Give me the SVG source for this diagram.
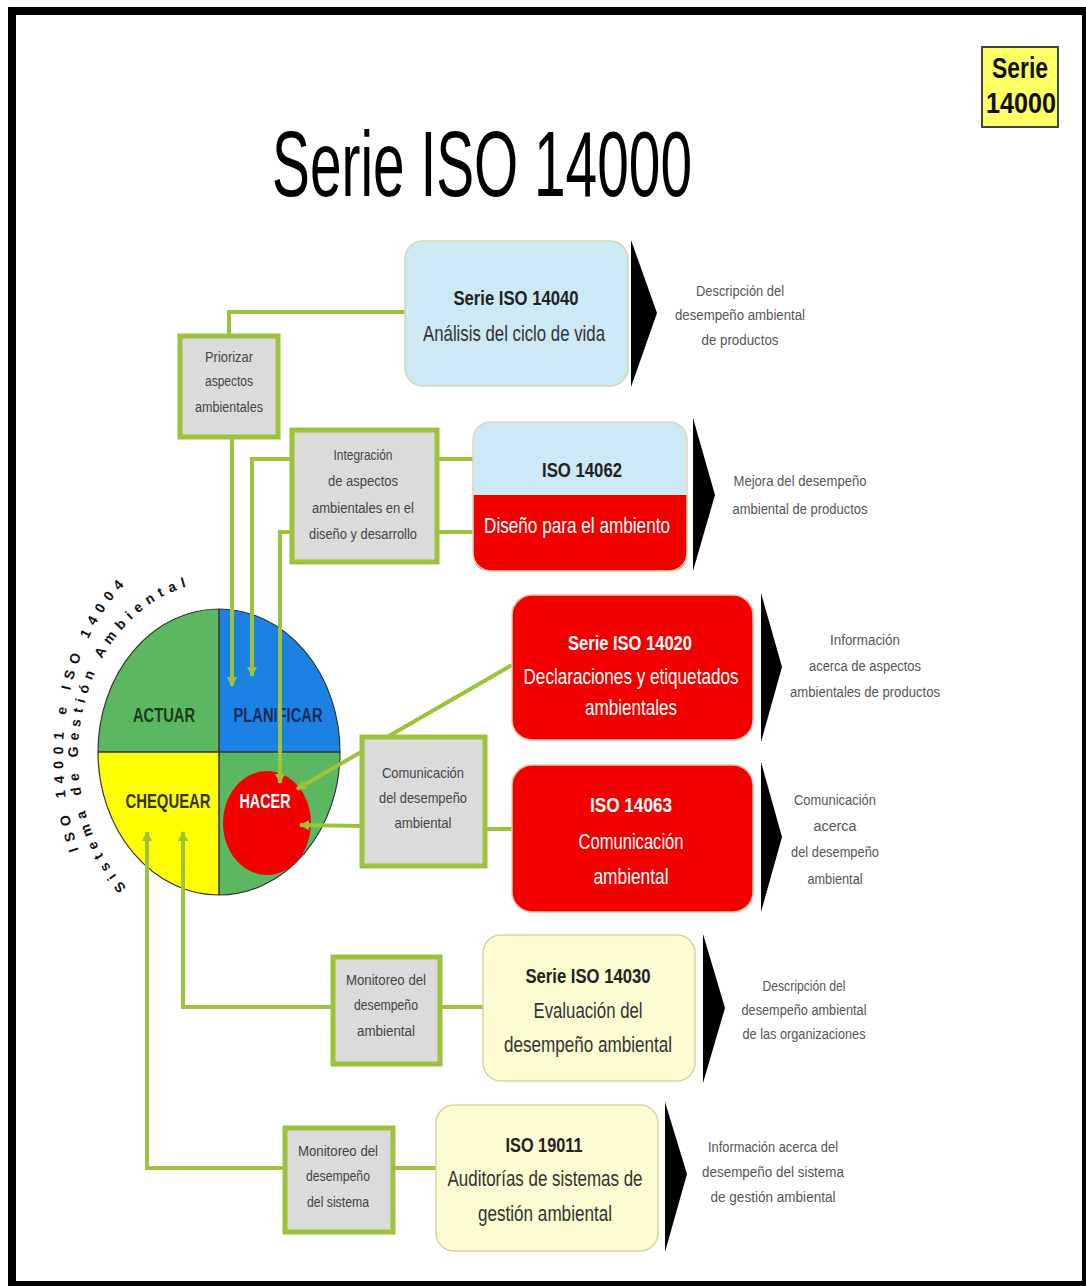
<svg xmlns="http://www.w3.org/2000/svg" width="1086" height="1286" viewBox="0 0 1086 1286">
<style>
text{font-family:"Liberation Sans",Arial,Helvetica,sans-serif;text-anchor:middle}
.gb{fill:#dbdbdb;stroke:#9cc33b;stroke-width:5}
.ln{fill:none;stroke:#9cc33b;stroke-width:4}
.gt{font-size:14px;fill:#444}
.ct{font-size:15px;fill:#444}
.dt{font-size:14px;fill:#555}
.bt{font-size:20px;font-weight:bold;fill:#222}
.bx{font-size:22px;fill:#333}
.wb{font-size:20px;font-weight:bold;fill:#fff}
.wx{font-size:22px;fill:#fff}
.blue{fill:#cde9f6;stroke:#cfd9b5;stroke-width:1.5}
.red{fill:#f20000;stroke:#f4c4a4;stroke-width:1.5}
.yel{fill:#fdfbd2;stroke:#d9d3a3;stroke-width:1.5}
.tri{fill:#000}
.arc{font-size:14px;font-weight:bold;fill:#111;text-anchor:start}
.ai{letter-spacing:5.8px}
.ao{letter-spacing:6.6px}
.q{font-size:21px;font-weight:bold}
</style>
<defs>
<marker id="ah" viewBox="0 0 10 10" markerWidth="10" markerHeight="10" refX="9" refY="5" orient="auto" markerUnits="userSpaceOnUse">
<path d="M0,0 L10,5 L0,10 z" fill="#9cc33b"/>
</marker>
<path id="arcIn" d="M126.5,887.4 A141,174 0 0 1 219,582"/>
<path id="arcOut" d="M78.8,850.2 A156,215 0 0 1 205.4,541.8"/>
</defs>
<rect x="0" y="0" width="1086" height="1286" fill="#fff"/>
<rect x="12" y="11" width="1074" height="1274" fill="none" stroke="#000" stroke-width="8"/>

<g id="badge">
<rect x="982" y="47" width="76" height="80" fill="#ffff66" stroke="#444" stroke-width="2"/>
<text x="1020" y="78" font-size="29" font-weight="bold" fill="#111" textLength="56" lengthAdjust="spacingAndGlyphs">Serie</text>
<text x="1021" y="113" font-size="29" font-weight="bold" fill="#111" textLength="70" lengthAdjust="spacingAndGlyphs">14000</text>
</g>

<g id="title">
<text x="482" y="196" font-size="92" fill="#000" textLength="420" lengthAdjust="spacingAndGlyphs">Serie ISO 14000</text>
</g>

<g id="pdca">
<path d="M219,752 L98,752 A121,143 0 0 1 219,609 Z" fill="#5cb761"/>
<path d="M219,752 L219,609 A121,143 0 0 1 340,752 Z" fill="#1b82e4"/>
<path d="M219,752 L340,752 A121,143 0 0 1 219,895 Z" fill="#5cb761"/>
<path d="M219,752 L219,895 A121,143 0 0 1 98,752 Z" fill="#ffff00"/>
<ellipse cx="219" cy="752" rx="121" ry="143" fill="none" stroke="#333" stroke-width="1.2"/>
<line x1="219" y1="609" x2="219" y2="895" stroke="#333" stroke-width="1.5"/>
<line x1="98" y1="752" x2="340" y2="752" stroke="#333" stroke-width="1.5"/>
<ellipse cx="267" cy="823" rx="44" ry="52" fill="#f00000"/>
<text class="q" x="164" y="722" fill="#1d3a1d" textLength="62" lengthAdjust="spacingAndGlyphs">ACTUAR</text>
<text class="q" x="278" y="722" fill="#1a2858" textLength="89" lengthAdjust="spacingAndGlyphs">PLANIFICAR</text>
<text class="q" x="168" y="808" fill="#333" textLength="85" lengthAdjust="spacingAndGlyphs">CHEQUEAR</text>
<text class="q" x="265" y="808" fill="#fff" textLength="51" lengthAdjust="spacingAndGlyphs">HACER</text>
</g>

<g id="ring-label">
<text class="arc ai"><textPath href="#arcIn" startOffset="0">Sistema</textPath></text>
<text class="arc ai"><textPath href="#arcIn" startOffset="104">de</textPath></text>
<text class="arc ai"><textPath href="#arcIn" startOffset="141.6">Gestión</textPath></text>
<text class="arc ai"><textPath href="#arcIn" startOffset="244">Ambiental</textPath></text>
<text class="arc ao"><textPath href="#arcOut" startOffset="0">ISO</textPath></text>
<text class="arc ao"><textPath href="#arcOut" startOffset="54.4">14001</textPath></text>
<text class="arc ao"><textPath href="#arcOut" startOffset="136.8">e</textPath></text>
<text class="arc ao"><textPath href="#arcOut" startOffset="161.7">ISO</textPath></text>
<text class="arc ao"><textPath href="#arcOut" startOffset="216.1">14004</textPath></text>
</g>

<g id="connectors">
<polyline class="ln" points="229,336 229,312 405,312"/>
<polyline class="ln" points="232,437 232,686" marker-end="url(#ah)"/>
<polyline class="ln" points="292,459 252,459 252,676" marker-end="url(#ah)"/>
<polyline class="ln" points="292,532 280,532 280,783" marker-end="url(#ah)"/>
<line class="ln" x1="437" y1="459" x2="473" y2="459"/>
<line class="ln" x1="437" y1="532" x2="473" y2="532"/>
<line class="ln" x1="512" y1="665" x2="297" y2="789" marker-end="url(#ah)"/>
<line class="ln" x1="485" y1="829" x2="512" y2="829"/>
<line class="ln" x1="362" y1="826" x2="300" y2="825" marker-end="url(#ah)"/>
<polyline class="ln" points="333,1007 183,1007 183,832" marker-end="url(#ah)"/>
<line class="ln" x1="440" y1="1007" x2="483" y2="1007"/>
<polyline class="ln" points="285,1168 147,1168 147,832" marker-end="url(#ah)"/>
<line class="ln" x1="393" y1="1168" x2="436" y2="1168"/>
</g>

<g id="priorizar">
<rect class="gb" x="180" y="336" width="98" height="101"/>
<text class="gt" x="229" y="362" textLength="48" lengthAdjust="spacingAndGlyphs">Priorizar</text>
<text class="gt" x="229" y="386" textLength="48" lengthAdjust="spacingAndGlyphs">aspectos</text>
<text class="gt" x="229" y="412" textLength="68" lengthAdjust="spacingAndGlyphs">ambientales</text>
</g>

<g id="integracion">
<rect class="gb" x="292" y="430" width="145" height="132"/>
<text class="gt" x="363" y="460" textLength="59" lengthAdjust="spacingAndGlyphs">Integración</text>
<text class="gt" x="363" y="486" textLength="70" lengthAdjust="spacingAndGlyphs">de aspectos</text>
<text class="gt" x="363" y="513" textLength="102" lengthAdjust="spacingAndGlyphs">ambientales en el</text>
<text class="gt" x="363" y="539" textLength="108" lengthAdjust="spacingAndGlyphs">diseño y desarrollo</text>
</g>

<g id="comunicacion">
<rect class="gb" x="362" y="737" width="123" height="129"/>
<text class="ct" x="423" y="778" textLength="82" lengthAdjust="spacingAndGlyphs">Comunicación</text>
<text class="ct" x="423" y="803" textLength="88" lengthAdjust="spacingAndGlyphs">del desempeño</text>
<text class="ct" x="423" y="828" textLength="57" lengthAdjust="spacingAndGlyphs">ambiental</text>
</g>

<g id="monitoreo-ambiental">
<rect class="gb" x="333" y="957" width="107" height="107"/>
<text class="gt" x="386" y="985" textLength="80" lengthAdjust="spacingAndGlyphs">Monitoreo del</text>
<text class="gt" x="386" y="1010" textLength="64" lengthAdjust="spacingAndGlyphs">desempeño</text>
<text class="gt" x="386" y="1036" textLength="58" lengthAdjust="spacingAndGlyphs">ambiental</text>
</g>

<g id="monitoreo-sistema">
<rect class="gb" x="285" y="1128" width="108" height="104"/>
<text class="gt" x="338" y="1156" textLength="80" lengthAdjust="spacingAndGlyphs">Monitoreo del</text>
<text class="gt" x="338" y="1181" textLength="64" lengthAdjust="spacingAndGlyphs">desempeño</text>
<text class="gt" x="338" y="1207" textLength="62" lengthAdjust="spacingAndGlyphs">del sistema</text>
</g>

<g id="iso14040">
<rect class="blue" x="405" y="241" width="223" height="145" rx="18"/>
<text class="bt" x="516" y="305" textLength="125" lengthAdjust="spacingAndGlyphs">Serie ISO 14040</text>
<text class="bx" x="514" y="341" textLength="182" lengthAdjust="spacingAndGlyphs">Análisis del ciclo de vida</text>
<polygon class="tri" points="631,240 657,313 631,387"/>
<text class="dt" x="740" y="296" textLength="88" lengthAdjust="spacingAndGlyphs">Descripción del</text>
<text class="dt" x="740" y="320" textLength="130" lengthAdjust="spacingAndGlyphs">desempeño ambiental</text>
<text class="dt" x="740" y="345" textLength="77" lengthAdjust="spacingAndGlyphs">de productos</text>
</g>

<g id="iso14062">
<path d="M473,495 V440 Q473,422 491,422 H669 Q687,422 687,440 V495 Z" fill="#cde9f6"/>
<path d="M473,495 H687 V553 Q687,571 669,571 H491 Q473,571 473,553 Z" fill="#f20000"/>
<rect x="473" y="422" width="214" height="149" rx="18" fill="none" stroke="#e8d2b8" stroke-width="1.5"/>
<text class="bt" x="582" y="477" font-size="22" textLength="80" lengthAdjust="spacingAndGlyphs">ISO 14062</text>
<text class="wx" x="577" y="533" font-size="21" textLength="186" lengthAdjust="spacingAndGlyphs">Diseño para el ambiento</text>
<polygon class="tri" points="693,418 715,495 693,571"/>
<text class="dt" x="800" y="486" textLength="133" lengthAdjust="spacingAndGlyphs">Mejora del desempeño</text>
<text class="dt" x="800" y="514" textLength="135" lengthAdjust="spacingAndGlyphs">ambiental de productos</text>
</g>

<g id="iso14020">
<rect class="red" x="512" y="595" width="241" height="145" rx="20"/>
<text class="wb" x="630" y="650" textLength="124" lengthAdjust="spacingAndGlyphs">Serie ISO 14020</text>
<text class="wx" x="631" y="684" textLength="215" lengthAdjust="spacingAndGlyphs">Declaraciones y etiquetados</text>
<text class="wx" x="631" y="715" textLength="92" lengthAdjust="spacingAndGlyphs">ambientales</text>
<polygon class="tri" points="761,593 782,667 761,742"/>
<text class="dt" x="865" y="645" textLength="70" lengthAdjust="spacingAndGlyphs">Información</text>
<text class="dt" x="865" y="671" textLength="112" lengthAdjust="spacingAndGlyphs">acerca de aspectos</text>
<text class="dt" x="865" y="697" textLength="150" lengthAdjust="spacingAndGlyphs">ambientales de productos</text>
</g>

<g id="iso14063">
<rect class="red" x="512" y="765" width="241" height="147" rx="20"/>
<text class="wb" x="631" y="812" font-size="21" textLength="82" lengthAdjust="spacingAndGlyphs">ISO 14063</text>
<text class="wx" x="631" y="849" textLength="105" lengthAdjust="spacingAndGlyphs">Comunicación</text>
<text class="wx" x="631" y="884" textLength="75" lengthAdjust="spacingAndGlyphs">ambiental</text>
<polygon class="tri" points="761,762 782,837 761,912"/>
<text class="dt" x="835" y="805" textLength="82" lengthAdjust="spacingAndGlyphs">Comunicación</text>
<text class="dt" x="835" y="831" textLength="43" lengthAdjust="spacingAndGlyphs">acerca</text>
<text class="dt" x="835" y="857" textLength="88" lengthAdjust="spacingAndGlyphs">del desempeño</text>
<text class="dt" x="835" y="884" textLength="55" lengthAdjust="spacingAndGlyphs">ambiental</text>
</g>

<g id="iso14030">
<rect class="yel" x="483" y="935" width="212" height="146" rx="18"/>
<text class="bt" x="588" y="983" font-size="21" textLength="125" lengthAdjust="spacingAndGlyphs">Serie ISO 14030</text>
<text class="bx" x="588" y="1018" textLength="109" lengthAdjust="spacingAndGlyphs">Evaluación del</text>
<text class="bx" x="588" y="1052" textLength="168" lengthAdjust="spacingAndGlyphs">desempeño ambiental</text>
<polygon class="tri" points="703,934 725,1008 703,1083"/>
<text class="dt" x="804" y="991" textLength="83" lengthAdjust="spacingAndGlyphs">Descripción del</text>
<text class="dt" x="804" y="1015" textLength="125" lengthAdjust="spacingAndGlyphs">desempeño ambiental</text>
<text class="dt" x="804" y="1039" textLength="123" lengthAdjust="spacingAndGlyphs">de las organizaciones</text>
</g>

<g id="iso19011">
<rect class="yel" x="436" y="1105" width="222" height="146" rx="18"/>
<text class="bt" x="544" y="1152" font-size="21" textLength="77" lengthAdjust="spacingAndGlyphs">ISO 19011</text>
<text class="bx" x="545" y="1186" textLength="195" lengthAdjust="spacingAndGlyphs">Auditorías de sistemas de</text>
<text class="bx" x="545" y="1221" textLength="134" lengthAdjust="spacingAndGlyphs">gestión ambiental</text>
<polygon class="tri" points="665,1102 687,1174 665,1252"/>
<text class="dt" x="773" y="1152" textLength="130" lengthAdjust="spacingAndGlyphs">Información acerca del</text>
<text class="dt" x="773" y="1177" textLength="142" lengthAdjust="spacingAndGlyphs">desempeño del sistema</text>
<text class="dt" x="773" y="1202" textLength="125" lengthAdjust="spacingAndGlyphs">de gestión ambiental</text>
</g>
</svg>
